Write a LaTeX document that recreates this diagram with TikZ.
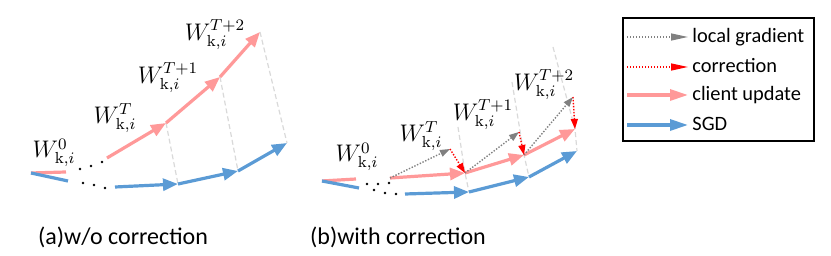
\documentclass[tikz,border=0pt]{standalone}
\usepackage[no-math]{fontspec}
\setmainfont{Carlito}
\usepackage{xcolor}
\usepackage{tikz}
\usetikzlibrary{arrows.meta}
\definecolor{clientc}{RGB}{255,153,153}
\definecolor{sgdc}{RGB}{91,155,213}
\definecolor{gradc}{RGB}{128,128,128}
\definecolor{guidec}{RGB}{217,217,217}

\begin{document}
\begin{tikzpicture}[x=0.5pt,y=-0.5pt,>={Triangle[length=7.5pt,width=6pt]},
  client/.style={line width=1.6pt,clientc},
  sgd/.style={line width=1.6pt,sgdc},
  grad/.style={line width=0.7pt,gradc,dash pattern=on 0.7pt off 0.8pt,-{Triangle[length=5pt,width=3.5pt]}},
  corr/.style={line width=0.7pt,red,dash pattern=on 0.7pt off 0.8pt,-{Triangle[length=5pt,width=3.5pt]}},
  guide/.style={line width=0.6pt,guidec,dash pattern=on 2.5pt off 1.5pt},
  wlab/.style={inner sep=0pt,font=\fontsize{12}{14}\selectfont},
  legtxt/.style={anchor=west,inner sep=2pt,text height=1.5ex,text depth=.25ex,
                 font=\fontsize{10.2}{12}\selectfont},
  capt/.style={anchor=base,font=\fontsize{12}{14}\selectfont}]
\useasboundingbox (0,0) rectangle (831,256);

% (a) w/o correction
\coordinate (a0) at (31,173);
\coordinate (ap0) at (66,172);
\coordinate (ab0) at (68,181);
\coordinate (aps) at (107,158);
\coordinate (ap1) at (166,123);
\coordinate (ap2) at (220,77);
\coordinate (ap3) at (260,32);
\coordinate (abs) at (115,187);
\coordinate (ab1) at (178,184);
\coordinate (ab2) at (238,171);
\coordinate (ab3) at (287,143);

\draw[guide] (ap1) -- (ab1);
\draw[guide] (ap2) -- (ab2);
\draw[guide] (ap3) -- (ab3);

\draw[client] (a0) -- (ap0);
\draw[sgd] (a0) -- (ab0);
\draw[client,->] (aps) -- (ap1);
\draw[client,->] (ap1) -- (ap2);
\draw[client,->] (ap2) -- (ap3);
\draw[sgd,->] (abs) -- (ab1);
\draw[sgd,->] (ab1) -- (ab2);
\draw[sgd,->] (ab2) -- (ab3);

\foreach \p in {(80,169),(91,166),(102,162),(83,183),(94,185),(105,188)}
  \fill \p circle (0.65pt);

\node[wlab] (aw0) at (54,153) {$W^{0}_{\mathrm{k},i}$};
\node[wlab] (awt) at (115,118) {$W^{T}_{\mathrm{k},i}$};
\node[wlab] (awt1) at (168,78) {$W^{T+1}_{\mathrm{k},i}$};
\node[wlab] (awt2) at (215,35) {$W^{T+2}_{\mathrm{k},i}$};

% (b) with correction
\coordinate (b0) at (322,181);
\coordinate (bp0) at (356,179);
\coordinate (bb0) at (359,188);
\coordinate (bps) at (390,178);
\coordinate (bp1) at (465,173);
\coordinate (bp2) at (524,155);
\coordinate (bp3) at (575,129);
\coordinate (bbs) at (405,194);
\coordinate (bb1) at (469,192);
\coordinate (bb2) at (529,177);
\coordinate (bb3) at (577,151);
\coordinate (bg1) at (450,149);
\coordinate (bg2) at (519,132);
\coordinate (bg3) at (573,97);
\coordinate (bt1) at (458,127);
\coordinate (bt2) at (512,82);
\coordinate (bt3) at (553,47);

\draw[guide] (bt1) -- (bp1) -- (bb1);
\draw[guide] (bt2) -- (bp2) -- (bb2);
\draw[guide] (bt3) -- (bp3) -- (bb3);

\draw[client] (b0) -- (bp0);
\draw[sgd] (b0) -- (bb0);
\draw[client,->] (bps) -- (bp1);
\draw[client,->] (bp1) -- (bp2);
\draw[client,->] (bp2) -- (bp3);
\draw[sgd,->] (bbs) -- (bb1);
\draw[sgd,->] (bb1) -- (bb2);
\draw[sgd,->] (bb2) -- (bb3);

\draw[grad] (bps) -- (bg1);
\draw[grad] (bp1) -- (bg2);
\draw[grad] (bp2) -- (bg3);
\draw[corr] (bg1) -- (bp1);
\draw[corr] (bg2) -- (bp2);
\draw[corr] (bg3) -- (bp3);

\foreach \p in {(367,184),(378,184),(389,183),(374,190),(385,193),(396,194)}
  \fill \p circle (0.65pt);

\node[wlab] (bw0) at (357,157) {$W^{0}_{\mathrm{k},i}$};
\node[wlab] (bwt) at (421,136) {$W^{T}_{\mathrm{k},i}$};
\node[wlab] (bwt1) at (483,115) {$W^{T+1}_{\mathrm{k},i}$};
\node[wlab] (bwt2) at (544,85) {$W^{T+2}_{\mathrm{k},i}$};

% captions
\node[capt] (capa) at (123,245) {(a)w/o correction};
\node[capt] (capb) at (398,245) {(b)with correction};

% legend
\draw[line width=0.8pt] (623,18) rectangle (814,141);
\node[legtxt] (lgrad) at (688,37) {local gradient};
\node[legtxt] (lcorr) at (688,67) {correction};
\node[legtxt] (lclient) at (688,95) {client update};
\node[legtxt] (lsgd) at (688,125) {SGD};
\coordinate (k1) at (627,37);
\coordinate (k2) at (627,67);
\coordinate (k3) at (627,95);
\coordinate (k4) at (627,125);
\draw[grad,-{Triangle[length=8.5pt,width=3.5pt]}] (k1) -- (lgrad.west);
\draw[corr,-{Triangle[length=8.5pt,width=3.5pt]}] (k2) -- (lcorr.west);
\draw[client,-{Triangle[length=9pt,width=5.5pt]}] (k3) -- (lclient.west);
\draw[sgd,-{Triangle[length=9pt,width=5.5pt]}] (k4) -- (lsgd.west);
\end{tikzpicture}
\end{document}
